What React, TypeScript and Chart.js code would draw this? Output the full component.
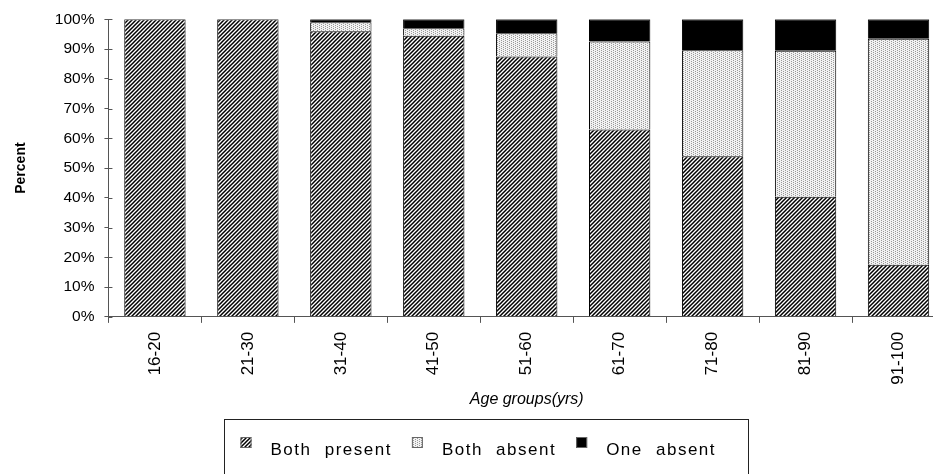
import React, { useEffect, useRef } from "react";
import { Chart, registerables } from "chart.js";

Chart.register(...registerables);

const categories = ["16-20", "21-30", "31-40", "41-50", "51-60", "61-70", "71-80", "81-90", "91-100"];
const bothPresent = [100, 100, 96, 94.5, 87.5, 63, 54, 40.4, 17.5];
const bothAbsent = [0, 0, 3, 2.5, 7.8, 29.5, 35.6, 49, 76];
const oneAbsent = [0, 0, 1, 3, 4.7, 7.5, 10.4, 10.6, 6.5];
const seriesLabels = ["Both present", "Both absent", "One absent"];
const xTitle = "Age groups(yrs)";
const yTitle = "Percent";

const FONT = "'Liberation Sans', Arial, Helvetica, sans-serif";

function hatchPattern(): CanvasPattern | string {
  const c = document.createElement("canvas");
  c.width = 4;
  c.height = 4;
  const g = c.getContext("2d");
  if (!g) return "#777";
  g.fillStyle = "#fff";
  g.fillRect(0, 0, 4, 4);
  g.strokeStyle = "#000";
  g.lineWidth = 1.5;
  g.beginPath();
  g.moveTo(-1, 5);
  g.lineTo(5, -1);
  g.moveTo(-1, 1);
  g.lineTo(1, -1);
  g.moveTo(3, 5);
  g.lineTo(5, 3);
  g.stroke();
  return g.createPattern(c, "repeat") || "#777";
}

function dotPattern(): CanvasPattern | string {
  const c = document.createElement("canvas");
  c.width = 4;
  c.height = 4;
  const g = c.getContext("2d");
  if (!g) return "#ddd";
  g.fillStyle = "#f2f2f2";
  g.fillRect(0, 0, 4, 4);
  g.fillStyle = "#999";
  g.fillRect(1, 0, 1, 1);
  g.fillRect(1, 2, 1, 1);
  g.fillRect(3, 1, 1, 1);
  g.fillRect(3, 3, 1, 1);
  return g.createPattern(c, "repeat") || "#ddd";
}

const boxLegend = {
  id: "boxLegend",
  afterDraw(chart: any) {
    const ctx = chart.ctx as CanvasRenderingContext2D;
    ctx.save();
    ctx.strokeStyle = "#222";
    ctx.lineWidth = 1;
    ctx.strokeRect(224.5, 419.5, 524, 80);
    ctx.font = `17px ${FONT}`;
    (ctx as any).letterSpacing = "1.5px";
    (ctx as any).wordSpacing = "7px";
    ctx.textBaseline = "alphabetic";
    ctx.textAlign = "left";
    let x = 240.5;
    chart.data.datasets.forEach((ds: any) => {
      ctx.fillStyle = ds.backgroundColor;
      ctx.fillRect(x, 437, 11, 11);
      ctx.strokeStyle = "#666";
      ctx.strokeRect(x + 0.5, 437.5, 10, 10);
      ctx.fillStyle = "#000";
      ctx.fillText(ds.label, x + 30, 455);
      const w = ctx.measureText(ds.label).width;
      x += 30 + w + 20;
    });
    ctx.restore();
  },
};

const crossTicks = {
  id: "crossTicks",
  afterDraw(chart: any) {
    const ctx = chart.ctx as CanvasRenderingContext2D;
    const y = chart.scales.y;
    const left = chart.chartArea.left;
    ctx.save();
    ctx.strokeStyle = "#555";
    ctx.lineWidth = 1;
    y.ticks.forEach((t: any) => {
      const py = Math.round(y.getPixelForValue(t.value)) + 0.5;
      ctx.beginPath();
      ctx.moveTo(left, py);
      ctx.lineTo(left + 4, py);
      ctx.stroke();
    });
    ctx.restore();
  },
};

export default function App() {
  const ref = useRef<HTMLCanvasElement | null>(null);

  useEffect(() => {
    if (!ref.current) return;
    const hatch = hatchPattern();
    const dots = dotPattern();
    const common = {
      borderColor: "#000",
      borderWidth: 1,
      barPercentage: 0.66,
      categoryPercentage: 1,
    };
    const chart = new Chart(ref.current, {
      type: "bar",
      data: {
        labels: categories,
        datasets: [
          { label: seriesLabels[0], data: bothPresent, backgroundColor: hatch as any, ...common },
          { label: seriesLabels[1], data: bothAbsent, backgroundColor: dots as any, ...common },
          { label: seriesLabels[2], data: oneAbsent, backgroundColor: "#000", ...common },
        ],
      },
      options: {
        responsive: true,
        maintainAspectRatio: false,
        animation: false,
        layout: { padding: { left: 13, right: 29, top: 19, bottom: 65 } },
        plugins: {
          legend: { display: false },
          tooltip: { enabled: false },
        },
        scales: {
          x: {
            stacked: true,
            offset: true,
            grid: { offset: true, drawOnChartArea: false, tickLength: 6, color: "#555" },
            border: { display: true, color: "#555", width: 1 },
            ticks: {
              maxRotation: 90,
              minRotation: 90,
              padding: 9,
              color: "#000",
              font: { family: FONT, size: 17 },
            },
            title: {
              display: true,
              text: xTitle,
              color: "#000",
              font: { family: FONT, size: 16, style: "italic" },
              padding: { top: -4, bottom: 0 },
            },
          },
          y: {
            stacked: true,
            min: 0,
            max: 100,
            grid: { drawOnChartArea: false, tickLength: 4, color: "#555" },
            border: { display: true, color: "#555", width: 1 },
            ticks: {
              stepSize: 10,
              padding: 10,
              color: "#000",
              font: { family: FONT, size: 15.5 },
              callback: (v: any) => `${v}%`,
            },
            title: {
              display: true,
              text: yTitle,
              color: "#000",
              font: { family: FONT, size: 14, weight: "bold" },
              padding: { top: 0, bottom: 15 },
            },
          },
        },
      },
      plugins: [boxLegend, crossTicks],
    });
    return () => chart.destroy();
  }, []);

  return (
    <div
      style={{
        position: "absolute",
        left: 0,
        top: 0,
        width: 933,
        height: 474,
        overflow: "hidden",
        background: "#fff",
      }}
    >
      <div style={{ position: "relative", width: 974, height: 474 }}>
        <canvas ref={ref} />
      </div>
    </div>
  );
}
